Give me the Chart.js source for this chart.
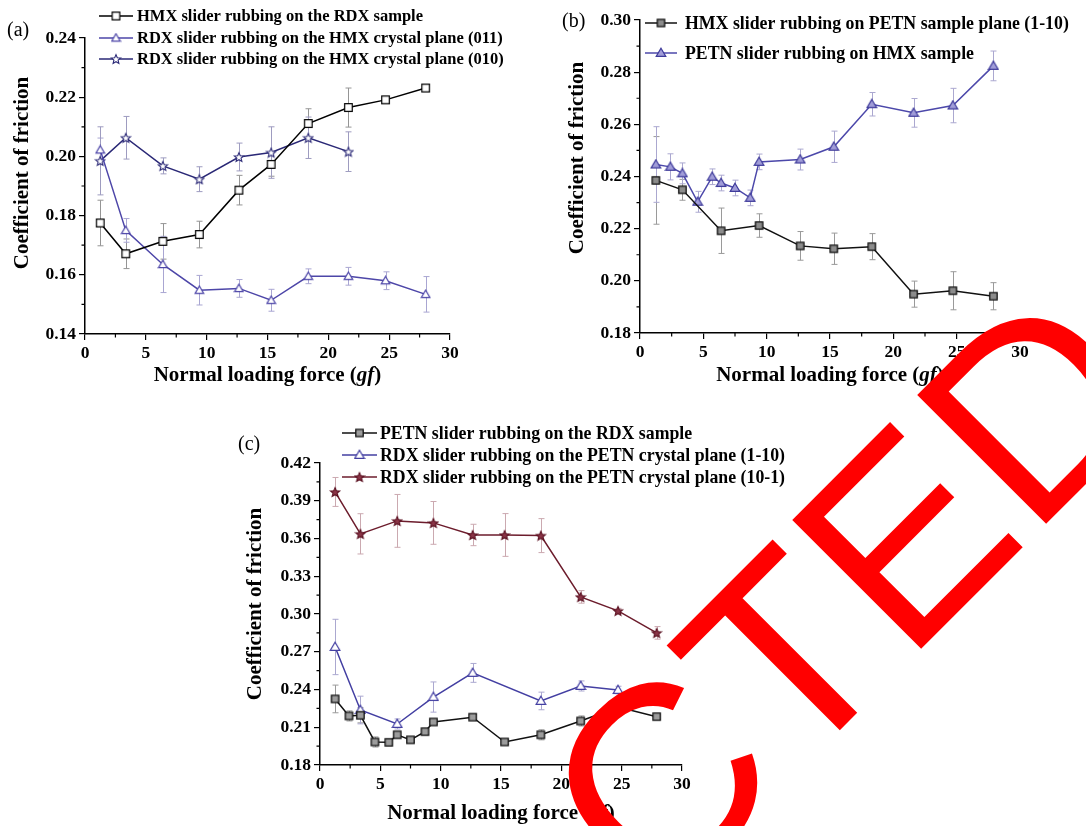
<!DOCTYPE html>
<html>
<head>
<meta charset="utf-8">
<script src="https://cdn.jsdelivr.net/npm/chart.js@4.4.1/dist/chart.umd.min.js"></script>
<style>
  body { margin: 0; background: #fff; }
  #page { position: relative; width: 1086px; height: 826px; overflow: hidden; background: #fff; }
  .panel { position: absolute; }
  #overlay { position: absolute; left: 0; top: 0; pointer-events: none; }
</style>
</head>
<body>
<div id="page">
  <canvas id="chartA" class="panel" width="545" height="400" style="left:0;top:0"></canvas>
  <canvas id="chartB" class="panel" width="541" height="400" style="left:545px;top:0"></canvas>
  <canvas id="chartC" class="panel" width="570" height="426" style="left:230px;top:400px"></canvas>
  <canvas id="overlay" width="1086" height="826"></canvas>
</div>
<script>
// ---- data ----
// (a)
const forceA = [1.25, 3.35, 6.4, 9.4, 12.65, 15.3, 18.35, 21.65, 24.7, 28.0];
const forceA010 = [1.25, 3.35, 6.4, 9.4, 12.65, 15.3, 18.35, 21.65];
const hmxOnRdx = [0.1775, 0.1671, 0.1713, 0.1736, 0.1886, 0.1973, 0.2111, 0.2165, 0.2191, 0.2231];
const hmxOnRdxErr = [0.0077, 0.005, 0.006, 0.0045, 0.005, 0.004, 0.005, 0.0066, 0, 0];
const rdxOnHmx011 = [0.2022, 0.175, 0.1635, 0.1548, 0.1554, 0.1514, 0.1595, 0.1595, 0.158, 0.1534];
const rdxOnHmx011Err = [0.004, 0.004, 0.0095, 0.005, 0.003, 0.0037, 0.0025, 0.003, 0.003, 0.006];
const rdxOnHmx010 = [0.1985, 0.2063, 0.1968, 0.1923, 0.1998, 0.2013, 0.2063, 0.2016];
const rdxOnHmx010Err = [0.0115, 0.0072, 0.0027, 0.0042, 0.0047, 0.0087, 0.007, 0.0067];

// (b)
const forceB1 = [1.25, 3.35, 6.4, 9.4, 12.65, 15.3, 18.3, 21.6, 24.7, 27.9];
const forceB2 = [1.25, 2.4, 3.35, 4.55, 5.7, 6.4, 7.5, 8.7, 9.4, 12.65, 15.3, 18.3, 21.6, 24.7, 27.9];
const hmxOnPetn = [0.2385, 0.2349, 0.2192, 0.2212, 0.2134, 0.2123, 0.2131, 0.1949, 0.1962, 0.1941];
const hmxOnPetnErr = [0.0168, 0.004, 0.0087, 0.0045, 0.0055, 0.006, 0.005, 0.005, 0.0073, 0.0052];
const petnOnHmx = [0.2446, 0.2437, 0.2412, 0.2303, 0.2399, 0.2375, 0.2356, 0.2318, 0.2456, 0.2465,
                   0.2514, 0.2677, 0.2644, 0.2672, 0.2824];
const petnOnHmxErr = [0.0145, 0.005, 0.004, 0.004, 0.003, 0.003, 0.003, 0.003, 0.003, 0.004,
                      0.006, 0.0045, 0.0055, 0.0066, 0.0057];

// (c)
const forceC1 = [1.25, 2.4, 3.35, 4.55, 5.7, 6.4, 7.5, 8.7, 9.4, 12.65, 15.3, 18.3, 21.6, 24.7, 27.9];
const forceC2 = [1.25, 3.35, 6.4, 9.4, 12.65, 18.3, 21.6, 24.7];
const forceC3 = [1.25, 3.35, 6.4, 9.4, 12.65, 15.3, 18.3, 21.6, 24.7, 27.9];
const petnOnRdx = [0.2325, 0.219, 0.2195, 0.1983, 0.198, 0.204, 0.2, 0.2065, 0.2142, 0.218,
                   0.1983, 0.204, 0.215, 0.226, 0.2184];
const petnOnRdxErr = [0.011, 0.004, 0.006, 0.004, 0.002, 0.002, 0.002, 0.002, 0.002, 0.002,
                      0.002, 0.004, 0.004, 0, 0.002];
const rdxOnPetn110 = [0.2738, 0.2237, 0.2126, 0.234, 0.2532, 0.2309, 0.2428, 0.2396];
const rdxOnPetn110Err = [0.022, 0.011, 0.004, 0.012, 0.0075, 0.007, 0.004, 0.003];
const rdxOnPetn101 = [0.397, 0.3637, 0.374, 0.3724, 0.3628, 0.3628, 0.3623, 0.3136, 0.3025, 0.285];
const rdxOnPetn101Err = [0.0115, 0.016, 0.021, 0.017, 0.0085, 0.017, 0.0135, 0.005, 0.002, 0.005];

const xTicks = [0, 5, 10, 15, 20, 25, 30];
const yTicksA = [0.14, 0.16, 0.18, 0.20, 0.22, 0.24];
const yTicksB = [0.18, 0.20, 0.22, 0.24, 0.26, 0.28, 0.30];
const yTicksC = [0.18, 0.21, 0.24, 0.27, 0.30, 0.33, 0.36, 0.39, 0.42];

const SERIF = '"Liberation Serif", "Times New Roman", serif';

// ---- markers ----
function makeMarker(shape, size, stroke, fill, lw) {
  const c = document.createElement("canvas");
  c.width = c.height = size;
  const g = c.getContext("2d");
  const m = size / 2;
  g.beginPath();
  if (shape === "square") {
    const h = size / 2 - lw - 0.5;
    g.rect(m - h, m - h, 2 * h, 2 * h);
  } else if (shape === "triangle") {
    const r = size / 2 - lw;
    g.moveTo(m, m - r);
    g.lineTo(m + r, m + r * 0.72);
    g.lineTo(m - r, m + r * 0.72);
    g.closePath();
  } else {
    const ro = size / 2 - lw, ri = ro * 0.45;
    for (let i = 0; i < 10; i++) {
      const r = i % 2 ? ri : ro;
      const a = -Math.PI / 2 + (i * Math.PI) / 5;
      const px = m + r * Math.cos(a), py = m + 0.5 + r * Math.sin(a);
      i ? g.lineTo(px, py) : g.moveTo(px, py);
    }
    g.closePath();
  }
  g.fillStyle = fill;
  g.fill();
  g.lineWidth = lw;
  g.strokeStyle = stroke;
  g.stroke();
  return c;
}

// ---- plugins ----
const errorBars = {
  id: "errorBars",
  beforeDatasetsDraw(chart) {
    const { ctx, scales: { x, y } } = chart;
    chart.data.datasets.forEach((ds) => {
      if (!ds.errors) return;
      ctx.save();
      ctx.strokeStyle = ds.errorColor;
      ctx.lineWidth = 1;
      ds.data.forEach((p, i) => {
        const e = ds.errors[i];
        if (!e) return;
        const px = Math.round(x.getPixelForValue(p.x)) + 0.5;
        const top = y.getPixelForValue(p.y + e);
        const bot = y.getPixelForValue(p.y - e);
        ctx.beginPath();
        ctx.moveTo(px, top); ctx.lineTo(px, bot);
        ctx.moveTo(px - 3, top); ctx.lineTo(px + 3, top);
        ctx.moveTo(px - 3, bot); ctx.lineTo(px + 3, bot);
        ctx.stroke();
      });
      ctx.restore();
    });
  },
};

const decorations = {
  id: "decorations",
  afterDraw(chart, args, opts) {
    const { ctx, chartArea: a, scales: { x, y } } = chart;
    ctx.save();
    // minor ticks
    ctx.strokeStyle = "#000";
    ctx.lineWidth = 1.2;
    ctx.beginPath();
    for (let v = 2.5; v < 30; v += 5) {
      const px = x.getPixelForValue(v);
      ctx.moveTo(px, a.bottom); ctx.lineTo(px, a.bottom + 3.5);
    }
    for (let v = y.min + opts.yStep / 2; v < y.max; v += opts.yStep) {
      const py = y.getPixelForValue(v);
      ctx.moveTo(a.left, py); ctx.lineTo(a.left - 3.5, py);
    }
    ctx.stroke();

    ctx.fillStyle = "#000";
    // panel label
    ctx.font = "20px " + SERIF;
    ctx.textBaseline = "middle";
    ctx.textAlign = "left";
    ctx.fillText(opts.panel, opts.panelX, opts.panelY);

    // y title
    ctx.save();
    ctx.translate(opts.yTitleX, opts.yTitleY);
    ctx.rotate(-Math.PI / 2);
    ctx.font = "bold 21px " + SERIF;
    ctx.textAlign = "center";
    ctx.fillText("Coefficient of friction", 0, 0);
    ctx.restore();

    // x title with italic unit
    const parts = [
      ["Normal loading force (", "bold 21px " + SERIF],
      ["gf", "italic bold 21px " + SERIF],
      [")", "bold 21px " + SERIF],
    ];
    let total = 0;
    parts.forEach(([t, f]) => { ctx.font = f; total += ctx.measureText(t).width; });
    let cx = (a.left + a.right) / 2 - total / 2;
    ctx.textAlign = "left";
    parts.forEach(([t, f]) => {
      ctx.font = f;
      ctx.fillText(t, cx, opts.xTitleY);
      cx += ctx.measureText(t).width;
    });

    // legend
    const lg = opts.legend;
    chart.data.datasets.forEach((ds, i) => {
      const ly = lg.ys[i];
      ctx.strokeStyle = ds.borderColor;
      ctx.lineWidth = 1.5;
      ctx.beginPath();
      ctx.moveTo(lg.x1, ly); ctx.lineTo(lg.x2, ly);
      ctx.stroke();
      const img = ds.pointStyle;
      ctx.drawImage(img, (lg.x1 + lg.x2) / 2 - img.width / 2, ly - img.height / 2);
      ctx.fillStyle = "#000";
      ctx.font = "bold " + lg.size + "px " + SERIF;
      ctx.textBaseline = "middle";
      ctx.fillText(ds.label, lg.xText, ly + 1);
    });
    ctx.restore();
  },
};

function series(label, xs, ys, errs, color, errColor, marker) {
  return {
    label,
    data: xs.map((v, i) => ({ x: v, y: ys[i] })),
    errors: errs,
    errorColor: errColor,
    borderColor: color,
    backgroundColor: color,
    borderWidth: 1.5,
    pointStyle: marker,
    pointRadius: 5,
    pointHoverRadius: 5,
    fill: false,
    tension: 0,
    clip: false,
  };
}

function makeChart(id, datasets, box, yRange, deco) {
  const tickFont = { family: SERIF, size: 17.5, weight: "bold" };
  return new Chart(document.getElementById(id), {
    type: "line",
    data: { datasets },
    plugins: [errorBars, decorations],
    options: {
      responsive: false,
      animation: false,
      events: [],
      layout: { padding: { left: 0, right: box.right, top: box.top, bottom: 0 } },
      plugins: {
        legend: { display: false },
        tooltip: { enabled: false },
        decorations: deco,
      },
      scales: {
        x: {
          type: "linear",
          min: 0,
          max: 30,
          afterBuildTicks: (s) => { s.ticks = xTicks.map((v) => ({ value: v })); },
          afterFit: (s) => { s.height = box.xHeight; },
          ticks: { color: "#000", font: tickFont, padding: 3, maxRotation: 0, autoSkip: false },
          grid: { drawOnChartArea: false, drawTicks: true, tickLength: 6, color: "#000", lineWidth: 1.2 },
          border: { color: "#000", width: 1.5 },
        },
        y: {
          min: yRange.min,
          max: yRange.max,
          afterBuildTicks: (s) => { s.ticks = yRange.ticks.map((v) => ({ value: v })); },
          afterFit: (s) => { s.width = box.yWidth; },
          ticks: { color: "#000", font: tickFont, padding: 3, callback: (v) => v.toFixed(2) },
          grid: { drawOnChartArea: false, drawTicks: true, tickLength: 6, color: "#000", lineWidth: 1.2 },
          border: { color: "#000", width: 1.5 },
        },
      },
    },
  });
}

// (a)
makeChart(
  "chartA",
  [
    series("HMX slider rubbing on the RDX sample", forceA, hmxOnRdx, hmxOnRdxErr,
      "#000000", "#959595", makeMarker("square", 11, "#000", "#fff", 1.2)),
    series("RDX slider rubbing on the HMX crystal plane (011)", forceA, rdxOnHmx011, rdxOnHmx011Err,
      "#4d46a8", "#a9a6d2", makeMarker("triangle", 11, "#4d46a8", "#fff", 1.2)),
    series("RDX slider rubbing on the HMX crystal plane (010)", forceA010, rdxOnHmx010, rdxOnHmx010Err,
      "#2a2876", "#9e9cc0", makeMarker("star", 12, "#2a2876", "#fff", 1.1)),
  ],
  { right: 95, top: 38, xHeight: 66, yWidth: 85 },
  { min: 0.14, max: 0.24, ticks: yTicksA },
  { yStep: 0.02, panel: "(a)", panelX: 7, panelY: 31, yTitleX: 23, yTitleY: 173, xTitleY: 376,
    legend: { x1: 99, x2: 133, xText: 137, ys: [16, 38, 59], size: 16.5 } }
);

// (b)
makeChart(
  "chartB",
  [
    series("HMX slider rubbing on PETN sample plane (1-10)", forceB1, hmxOnPetn, hmxOnPetnErr,
      "#111111", "#9a9a9a", makeMarker("square", 11, "#111", "#8c8c8c", 1.3)),
    series("PETN slider rubbing on HMX sample", forceB2, petnOnHmx, petnOnHmxErr,
      "#4c48aa", "#aba8d0", makeMarker("triangle", 12, "#3f3b9b", "#a19dd8", 1.2)),
  ],
  { right: 66, top: 20, xHeight: 67, yWidth: 95 },
  { min: 0.18, max: 0.30, ticks: yTicksB },
  { yStep: 0.02, panel: "(b)", panelX: 17, panelY: 22, yTitleX: 33, yTitleY: 158, xTitleY: 376,
    legend: { x1: 100, x2: 132, xText: 140, ys: [23, 53], size: 17.8 } }
);

// (c)
makeChart(
  "chartC",
  [
    series("PETN slider rubbing on the RDX sample", forceC1, petnOnRdx, petnOnRdxErr,
      "#111111", "#9a9a9a", makeMarker("square", 11, "#111", "#9c9c9c", 1.3)),
    series("RDX slider rubbing on the PETN crystal plane (1-10)", forceC2, rdxOnPetn110, rdxOnPetn110Err,
      "#433fa2", "#aba8d0", makeMarker("triangle", 12, "#433fa2", "#fff", 1.2)),
    series("RDX slider rubbing on the PETN crystal plane (10-1)", forceC3, rdxOnPetn101, rdxOnPetn101Err,
      "#6c1c2c", "#cba9b0", makeMarker("star", 12, "#5a1020", "#8a3547", 1.1)),
  ],
  { right: 118, top: 63, xHeight: 61, yWidth: 90 },
  { min: 0.18, max: 0.42, ticks: yTicksC },
  { yStep: 0.03, panel: "(c)", panelX: 8, panelY: 45, yTitleX: 26, yTitleY: 204, xTitleY: 414,
    legend: { x1: 112, x2: 147, xText: 150, ys: [33, 55, 77], size: 17.8 } }
);

// red stamp lettering lying over the figure
const octx = document.getElementById("overlay").getContext("2d");
octx.save();
octx.translate(656, 914);
octx.rotate(-Math.PI / 4);
octx.font = '265px "Liberation Sans", Arial, sans-serif';
octx.fillStyle = "#ff0000";
octx.fillText("CTED", 0, 0);
octx.restore();
</script>
</body>
</html>
